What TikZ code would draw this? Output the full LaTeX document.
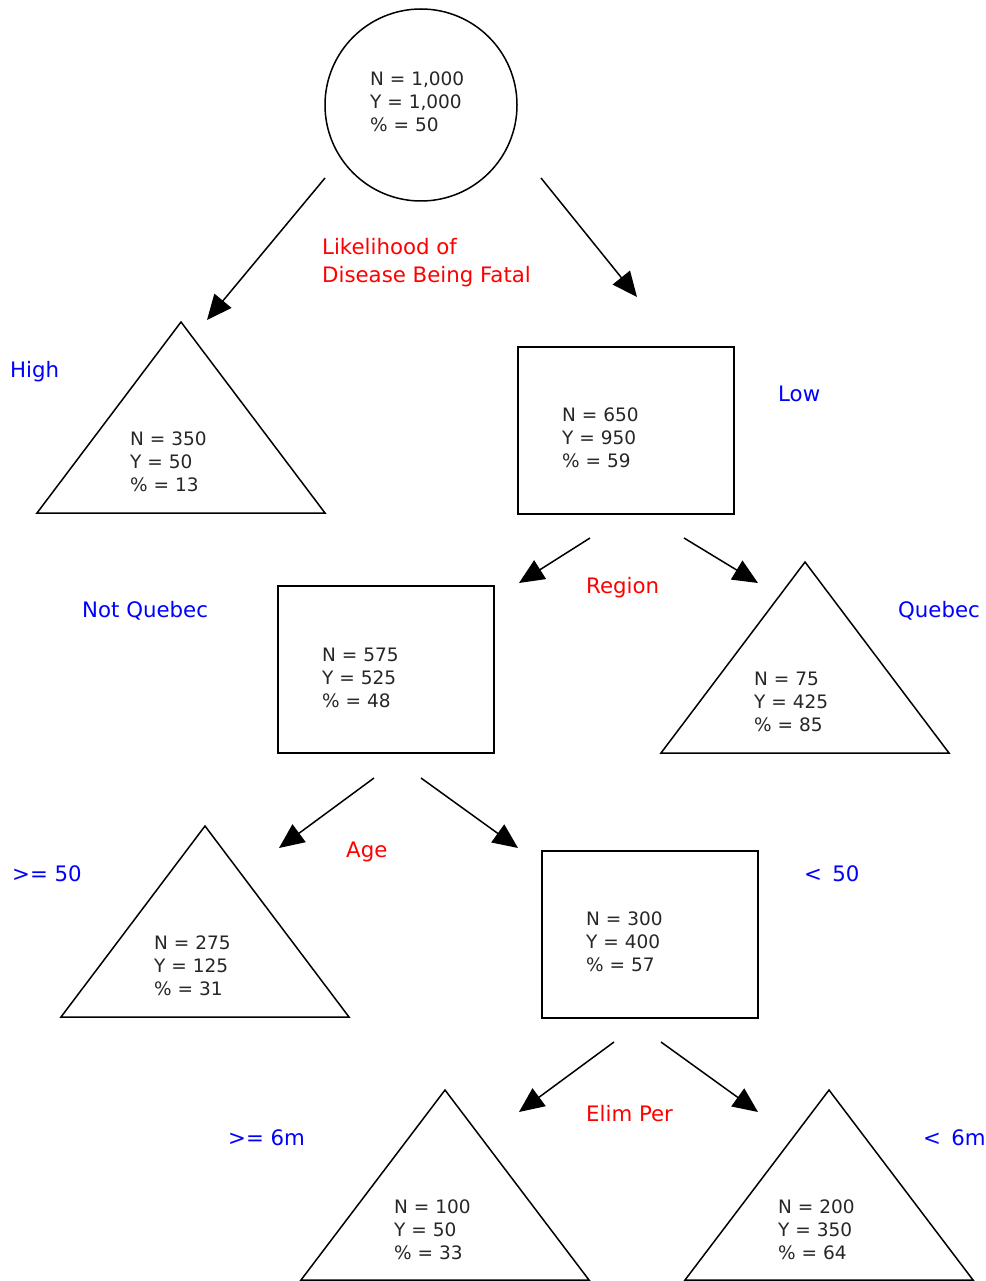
\documentclass[tikz,border=0pt]{standalone}
\usepackage{fontspec}
\setmainfont{DejaVu Sans}
\usetikzlibrary{arrows.meta}
\begin{document}
\begin{tikzpicture}[x=1pt,y=-1pt,
  shapeline/.style={draw=black,line width=1.5pt},
  box/.style={shapeline,rectangle,anchor=north west,minimum width=216pt,minimum height=167pt,inner sep=0pt},
  stats/.style={anchor=north west,inner sep=0pt,align=left,text=black!85,font=\fontsize{18.5}{23}\selectfont},
  split/.style={anchor=base west,inner sep=0pt,align=left,text=red,font=\fontsize{21.3}{28}\selectfont},
  branch/.style={anchor=base west,inner sep=0pt,text=blue,font=\fontsize{21.3}{28}\selectfont},
  arr/.style={line width=1.5pt,-{Triangle[length=25pt,width=22pt]}}
]
\useasboundingbox (0,0) rectangle (985,1281);

% root
\node[shapeline,circle,minimum size=192pt,inner sep=0pt] (root) at (421,105) {};
\node[stats] (troot) at (370,71.5) {N = 1,000\\Y = 1,000\\\% = 50};

% level 1
\coordinate (a1s) at (325,178); \coordinate (a1e) at (207,320);
\coordinate (a2s) at (541,178); \coordinate (a2e) at (637,297);
\draw[arr] (a1s) -- (a1e);
\draw[arr] (a2s) -- (a2e);
\node[split] (l1) at (322,282) {Likelihood of\\Disease Being Fatal};
\node[branch] (high) at (10,377) {High};
\node[branch] (low) at (778,401) {Low};

\coordinate (t1a) at (181,322); \coordinate (t1l) at (37,513); \coordinate (t1r) at (325,513);
\draw[shapeline,line join=miter] (t1a) -- (t1l) -- (t1r) -- cycle;
\node[stats] (tt1) at (130,431.5) {N = 350\\Y = 50\\\% = 13};

\node[box] (r1) at (517,346) {};
\node[stats] (tr1) at (562,407.5) {N = 650\\Y = 950\\\% = 59};

% level 2
\coordinate (b1s) at (590,538); \coordinate (b1e) at (519,583);
\coordinate (b2s) at (684,538); \coordinate (b2e) at (758,583);
\draw[arr] (b1s) -- (b1e);
\draw[arr] (b2s) -- (b2e);
\node[split] (l2) at (586,593) {Region};
\node[branch] (nq) at (82,617) {Not Quebec};
\node[branch] (q) at (898,617) {Quebec};

\node[box] (r2) at (277,585) {};
\node[stats] (tr2) at (322,647.5) {N = 575\\Y = 525\\\% = 48};

\coordinate (t2a) at (805,562); \coordinate (t2l) at (661,753); \coordinate (t2r) at (949,753);
\draw[shapeline,line join=miter] (t2a) -- (t2l) -- (t2r) -- cycle;
\node[stats] (tt2) at (754,671.5) {N = 75\\Y = 425\\\% = 85};

% level 3
\coordinate (c1s) at (374,778); \coordinate (c1e) at (279,848);
\coordinate (c2s) at (421,778); \coordinate (c2e) at (518,848);
\draw[arr] (c1s) -- (c1e);
\draw[arr] (c2s) -- (c2e);
\node[split] (l3) at (346,857) {Age};
\node[branch] (ge50) at (12,881) {>= 50};
\node[branch] (lt50) at (804,881) {<\, 50};

\coordinate (t3a) at (205,826); \coordinate (t3l) at (61,1017); \coordinate (t3r) at (349,1017);
\draw[shapeline,line join=miter] (t3a) -- (t3l) -- (t3r) -- cycle;
\node[stats] (tt3) at (154,935.5) {N = 275\\Y = 125\\\% = 31};

\node[box] (r3) at (541,850) {};
\node[stats] (tr3) at (586,911.5) {N = 300\\Y = 400\\\% = 57};

% level 4
\coordinate (d1s) at (614,1042); \coordinate (d1e) at (519,1112);
\coordinate (d2s) at (661,1042); \coordinate (d2e) at (758,1112);
\draw[arr] (d1s) -- (d1e);
\draw[arr] (d2s) -- (d2e);
\node[split] (l4) at (586,1121) {Elim Per};
\node[branch] (ge6) at (228,1145) {>= 6m};
\node[branch] (lt6) at (923,1145) {<\, 6m};

\coordinate (t4a) at (445,1090); \coordinate (t4l) at (301,1280); \coordinate (t4r) at (589,1280);
\draw[shapeline,line join=miter] (t4a) -- (t4l) -- (t4r) -- cycle;
\node[stats] (tt4) at (394,1199.5) {N = 100\\Y = 50\\\% = 33};

\coordinate (t5a) at (829,1090); \coordinate (t5l) at (685,1280); \coordinate (t5r) at (973,1280);
\draw[shapeline,line join=miter] (t5a) -- (t5l) -- (t5r) -- cycle;
\node[stats] (tt5) at (778,1199.5) {N = 200\\Y = 350\\\% = 64};
\end{tikzpicture}
\end{document}
